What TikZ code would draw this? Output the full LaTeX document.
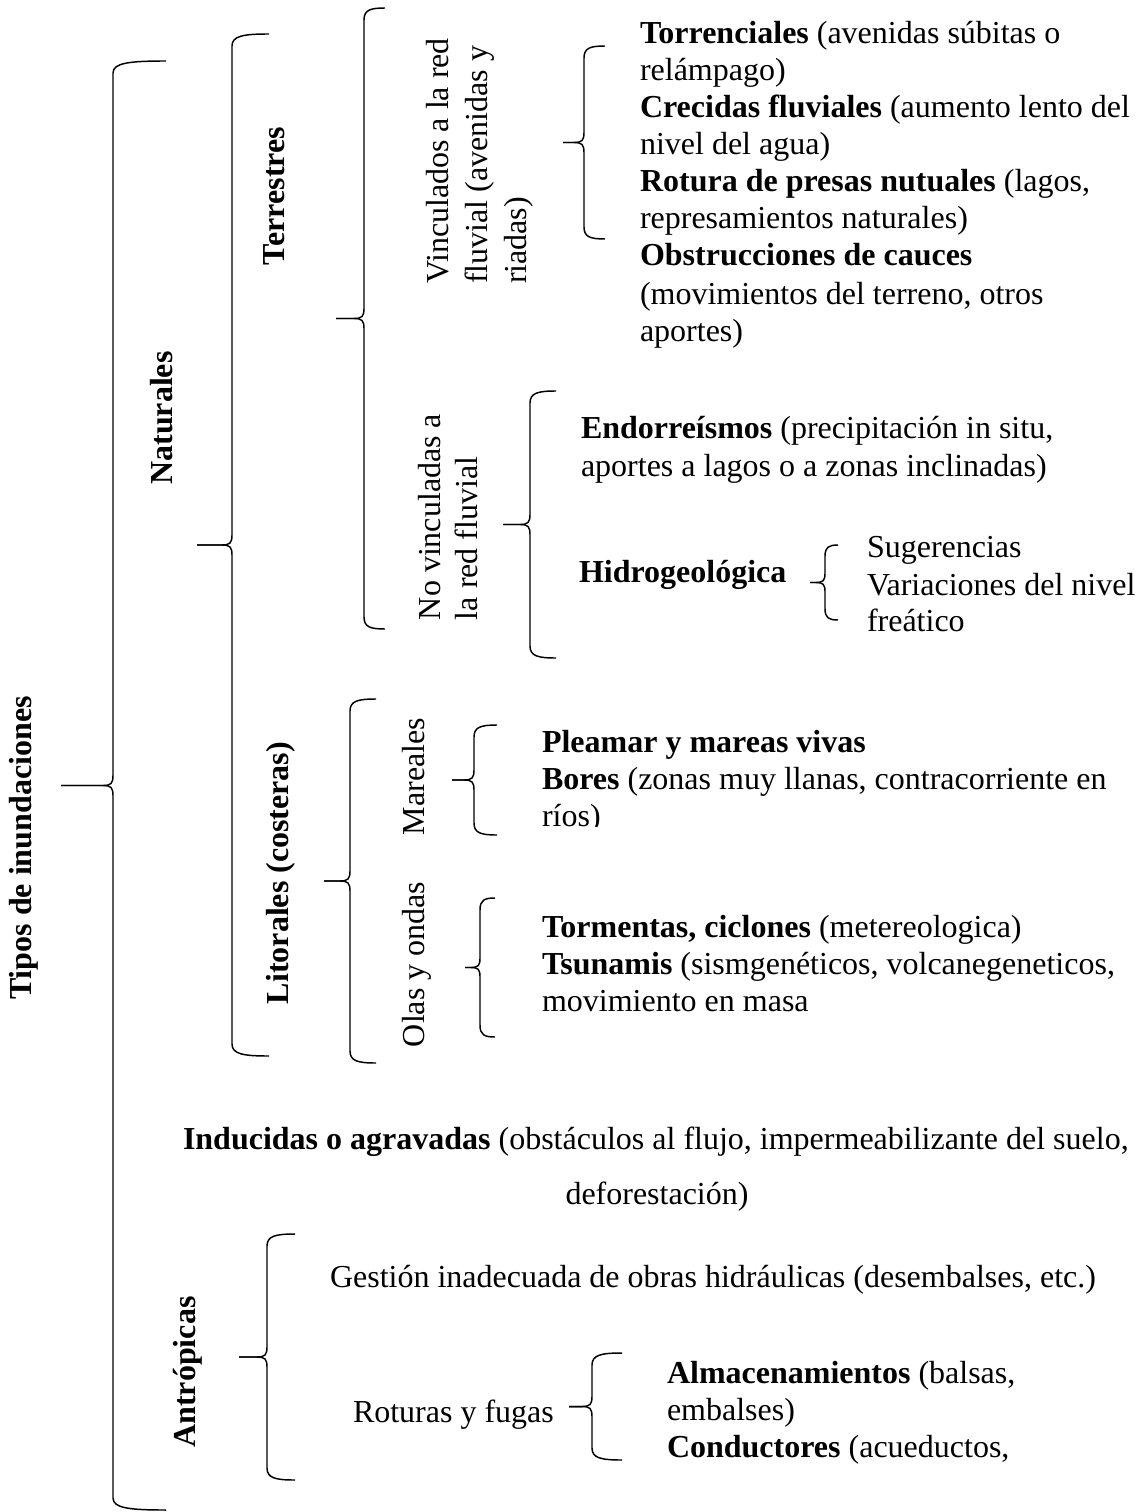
\documentclass[tikz,border=0pt]{standalone}
\usepackage{fontspec}
\setmainfont{Liberation Serif}
\tikzset{
  bline/.style={line width=0.55pt, black},
  txt/.style={inner sep=0pt, outer sep=0pt, font=\fontsize{12}{13.9}\selectfont},
  ht/.style={txt, anchor=base west},
  rt/.style={txt, rotate=90, anchor=base west},
  rb/.style={txt, rotate=90, anchor=base, font=\fontsize{12}{13.9}\selectfont\bfseries},
}
% x, top, bottom, tip x, arm x
\newcommand\wbrace[5]{%
  \pgfmathsetmacro\wbmid{(#2+#3)/2}%
  \pgfmathsetmacro\wbtc{min(10,0.6*(#1-#4))}%
  \pgfmathsetmacro\wbac{min(12,0.15*(#3-#2))}%
  \pgfmathsetmacro\wbarm{#1+0.3*(#5-#1)}%
  \draw[bline] (#5,#2) .. controls (\wbarm,#2) and (#1,#2+2) .. (#1,#2+\wbac)
     -- (#1,\wbmid-\wbtc) .. controls (#1,\wbmid-2) and (#1-2,\wbmid) .. (#1-\wbtc,\wbmid) -- (#4,\wbmid);
  \draw[bline] (#4,\wbmid) -- (#1-\wbtc,\wbmid) .. controls (#1-2,\wbmid) and (#1,\wbmid+2) .. (#1,\wbmid+\wbtc)
     -- (#1,#3-\wbac) .. controls (#1,#3-2) and (\wbarm,#3) .. (#5,#3);
}
\begin{document}
\begin{tikzpicture}[x=0.375pt,y=-0.375pt]
\fill[white] (0,0) rectangle (1144,1512);
\useasboundingbox (0,0) rectangle (1144,1512);

% rotated bold labels
\node[rb] (tipos) at (32,848) {Tipos de inundaciones};
\node[rb] (nat) at (172,418) {Naturales};
\node[rb] (terr) at (284,196) {Terrestres};
\node[rb] (lit) at (288,873) {Litorales (costeras)};
\node[rb] (antr) at (195,1372) {Antrópicas};

% rotated regular labels
\node[rt] (vin1) at (448,284) {Vinculados a la red};
\node[rt] (vin2) at (487,284) {fluvial (avenidas y};
\node[rt] (vin3) at (526,284) {riadas)};
\node[rt] (nov1) at (440,620) {No vinculadas a};
\node[rt] (nov2) at (477,620) {la red fluvial};
\node[rt] (mar) at (424,835) {Mareales};
\node[rt] (olas) at (424,1047) {Olas y ondas};

% horizontal texts
\node[ht] (t1) at (640,44) {\textbf{Torrenciales} (avenidas súbitas o};
\node[ht] (t2) at (640,81) {relámpago)};
\node[ht] (t3) at (640,118) {\textbf{Crecidas fluviales} (aumento lento del};
\node[ht] (t4) at (640,155) {nivel del agua)};
\node[ht] (t5) at (640,192) {\textbf{Rotura de presas nutuales} (lagos,};
\node[ht] (t6) at (640,229) {represamientos naturales)};
\node[ht] (t7) at (640,266) {\textbf{Obstrucciones de cauces}};
\node[ht] (t8) at (640,304) {(movimientos del terreno, otros};
\node[ht] (t9) at (640,341.5) {aportes)};

\node[ht] (e1) at (581,438) {\textbf{Endorreísmos} (precipitación in situ,};
\node[ht] (e2) at (581,476) {aportes a lagos o a zonas inclinadas)};
\node[ht] (hid) at (579,582) {\textbf{Hidrogeológica}};
\node[ht] (s1) at (867,557) {Sugerencias};
\node[ht] (s2) at (867,595) {Variaciones del nivel};
\node[ht] (s3) at (867,631) {freático};

\node[ht] (p1) at (542,752) {\textbf{Pleamar y mareas vivas}};
\node[ht] (p2) at (542,789) {\textbf{Bores} (zonas muy llanas, contracorriente en};
\begin{scope}
\clip (530,790) rectangle (700,826);
\node[ht] (p3) at (542,826) {ríos)};
\end{scope}

\node[ht] (o1) at (542,937) {\textbf{Tormentas, ciclones} (metereologica)};
\node[ht] (o2) at (542,974) {\textbf{Tsunamis} (sismgenéticos, volcanegeneticos,};
\node[ht] (o3) at (542,1011) {movimiento en masa};

\node[ht] (ind1) at (183,1149) {\textbf{Inducidas o agravadas} (obstáculos al flujo, impermeabilizante del suelo,};
\node[txt,anchor=base] (ind2) at (657,1204) {deforestación)};
\node[ht] (ges) at (330,1287) {Gestión inadecuada de obras hidráulicas (desembalses, etc.)};
\node[ht] (rot) at (353,1422) {Roturas y fugas};
\node[ht] (al1) at (667,1383) {\textbf{Almacenamientos} (balsas,};
\node[ht] (al2) at (667,1420) {embalses)};
\node[ht] (al3) at (667,1457) {\textbf{Conductores} (acueductos,};

% braces
\wbrace{113}{61}{1510}{61}{166}
\wbrace{232}{34}{1056}{197}{269}
\wbrace{364}{8}{629}{336}{385}
\wbrace{584}{46}{239}{563}{605}
\wbrace{530}{391}{658}{503}{556}
\wbrace{825}{545}{620}{810}{838}
\wbrace{350}{699}{1063}{324}{376}
\wbrace{474}{725}{835}{452}{497}
\wbrace{480}{898}{1037}{465}{495}
\wbrace{267}{1234}{1480}{239}{295}
\wbrace{592}{1353}{1460}{569}{622}
\end{tikzpicture}
\end{document}
